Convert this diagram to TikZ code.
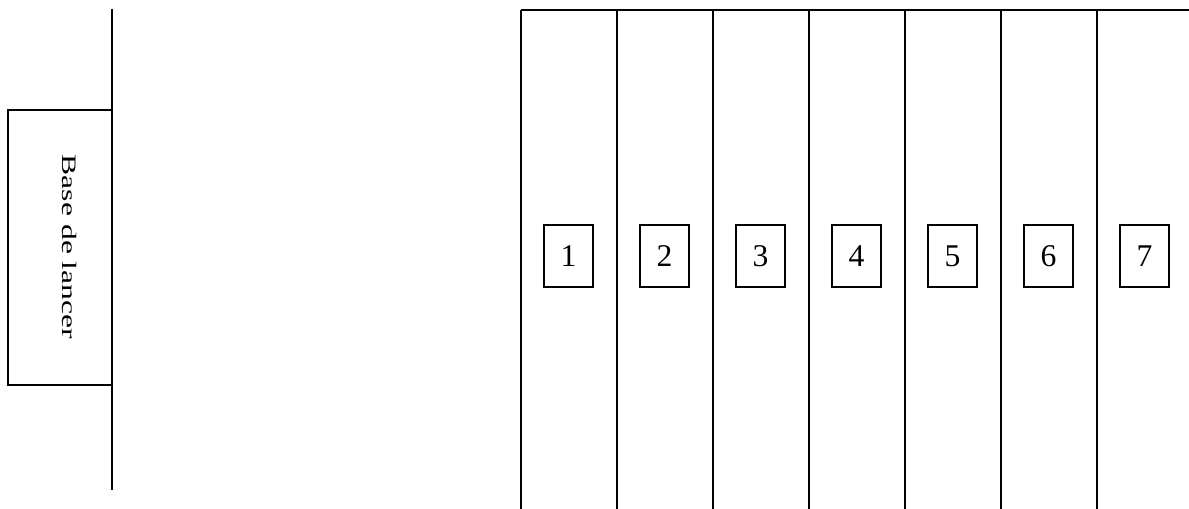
\documentclass[tikz,border=0pt]{standalone}
\usepackage{fontspec}
\setmainfont{Liberation Serif}
\begin{document}
\begin{tikzpicture}[x=0.02cm,y=-0.02cm,line width=1.1pt,
  case/.style={draw,inner sep=0pt,minimum width=0.98cm,minimum height=1.24cm,font=\fontsize{18}{20}\selectfont}]
\useasboundingbox (0,0) rectangle (1189,509);
\draw(112,9)--(112,490);
\node[draw,inner sep=0pt,minimum width=2.08cm,minimum height=5.5cm](base) at (60,247.5){};
\node[rotate=-90,anchor=base,inner sep=0pt,font=\fontsize{18}{20}\selectfont](lancer) at (62.5,247){\scalebox{1}[0.65]{Base de lancer}};
\draw(521,10)--(1189,10);
\foreach \i [count=\n] in {0,...,6}{
\draw(521+96*\i,10)--(521+96*\i,509);
\node[case](c\n) at (568.5+96*\i,256){\n};
}
\end{tikzpicture}
\end{document}
